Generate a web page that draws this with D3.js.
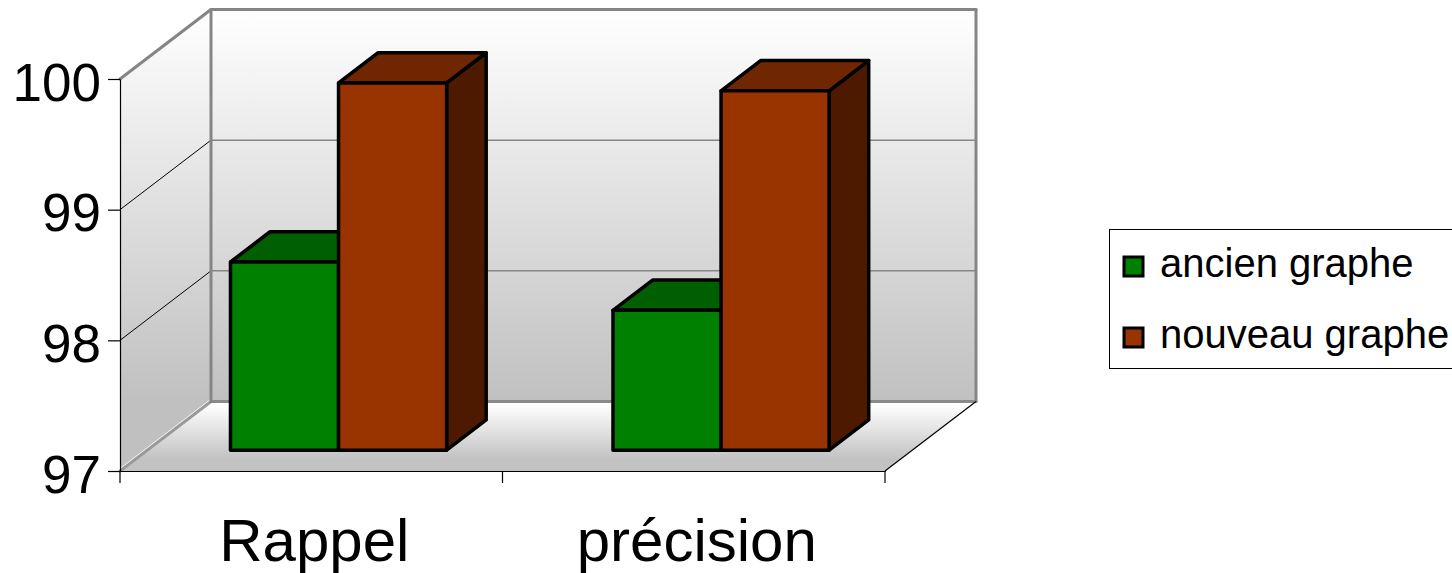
<!DOCTYPE html>
<html>
<head>
<meta charset="utf-8">
<script src="https://cdn.jsdelivr.net/npm/d3@7/dist/d3.min.js"></script>
<style>
  html, body { margin: 0; padding: 0; background: #ffffff; }
  svg { display: block; font-family: "Liberation Sans", Arial, sans-serif; }
</style>
</head>
<body>
<svg id="chart" width="1452" height="573"></svg>
<script>
// Chart data
const categories = ["Rappel", "précision"];
const seriesNames = ["ancien graphe", "nouveau graphe"];
const ancienGraphe = [98.44, 98.07];
const nouveauGraphe = [99.81, 99.75];
const yTicks = [97, 98, 99, 100];

const seriesValues = [ancienGraphe, nouveauGraphe];
const seriesColors = [
  { front: "#008000", top: "#005f00", side: "#004000" },
  { front: "#993300", top: "#702600", side: "#4d1a00" }
];

const svg = d3.select("#chart");

// Front plane scales
const y = d3.scaleLinear().domain([97, 100]).range([471, 79]);
const x = d3.scaleBand().domain(categories).range([120, 885]);

// Oblique depth projection: z = 0 front, z = 1 back wall
const DX = 91, DY = -69.5;
const P = (xf, yv, z) => [xf + z * DX, yv + z * DY];
const poly = pts => "M" + pts.map(p => p.join(",")).join("L") + "Z";

const x0 = x.range()[0], x1 = x.range()[1];
const yTop = y(y.domain()[1]), yBot = y(y.domain()[0]);

// Gradients
const defs = svg.append("defs");
const wallGrad = defs.append("linearGradient")
  .attr("id", "wallGrad").attr("gradientUnits", "userSpaceOnUse")
  .attr("x1", 0).attr("x2", 0).attr("y1", P(0, yTop, 1)[1]).attr("y2", P(0, yBot, 1)[1]);
wallGrad.append("stop").attr("offset", 0).attr("stop-color", "#ffffff");
wallGrad.append("stop").attr("offset", 1).attr("stop-color", "#c0c0c0");

const floorGrad = defs.append("linearGradient")
  .attr("id", "floorGrad").attr("gradientUnits", "userSpaceOnUse")
  .attr("x1", 0).attr("x2", 0).attr("y1", P(0, yBot, 1)[1] + 3).attr("y2", yBot - 12);
floorGrad.append("stop").attr("offset", 0).attr("stop-color", "#ffffff");
floorGrad.append("stop").attr("offset", 1).attr("stop-color", "#c2c2c2");

const walls = svg.append("g");

// Back wall
walls.append("path")
  .attr("d", poly([P(x0, yTop, 1), P(x1, yTop, 1), P(x1, yBot, 1), P(x0, yBot, 1)]))
  .attr("fill", "url(#wallGrad)").attr("stroke", "none");

// Left wall
walls.append("path")
  .attr("d", poly([P(x0, yTop, 0), P(x0, yTop, 1), P(x0, yBot, 1), P(x0, yBot, 0)]))
  .attr("fill", "url(#wallGrad)").attr("stroke", "none");

// Floor
walls.append("path")
  .attr("d", poly([P(x0, yBot, 0), P(x1, yBot, 0), P(x1, yBot, 1), P(x0, yBot, 1)]))
  .attr("fill", "url(#floorGrad)").attr("stroke", "none");

// Gridlines on back wall and left wall
yTicks.slice(1, -1).forEach(v => {
  walls.append("line")
    .attr("x1", P(x0, y(v), 1)[0]).attr("y1", P(x0, y(v), 1)[1])
    .attr("x2", P(x1, y(v), 1)[0]).attr("y2", P(x1, y(v), 1)[1])
    .attr("stroke", "#868686").attr("stroke-width", 1.5);
  walls.append("line")
    .attr("x1", P(x0, y(v), 0)[0]).attr("y1", P(x0, y(v), 0)[1])
    .attr("x2", P(x0, y(v), 1)[0]).attr("y2", P(x0, y(v), 1)[1])
    .attr("stroke", "#000000").attr("stroke-width", 1);
});

// Wall edges
const edge = (a, b, color, w) => walls.append("line")
  .attr("x1", a[0]).attr("y1", a[1]).attr("x2", b[0]).attr("y2", b[1])
  .attr("stroke", color).attr("stroke-width", w).attr("stroke-linecap", "round");

edge([P(x0, yBot, 0)[0], P(x0, yBot, 0)[1] - 2], [P(x0, yBot, 1)[0], P(x0, yBot, 1)[1] - 2], "#ffffff", 1.5);
edge(P(x0, yBot, 0), P(x0, yBot, 1), "#9a9a9a", 3);
edge([P(x0, yBot, 1)[0], P(x0, yBot, 1)[1] + 3], [P(x1, yBot, 1)[0], P(x1, yBot, 1)[1] + 3], "#ffffff", 1.5);
edge(P(x0, yBot, 1), P(x1, yBot, 1), "#8a8a8a", 3);
edge(P(x0, yTop, 0), P(x0, yTop, 1), "#858585", 3);
edge(P(x0, yTop, 1), P(x1, yTop, 1), "#858585", 3);
edge(P(x0, yTop, 1), P(x0, yBot, 1), "#858585", 3);
edge(P(x1, yTop, 1), P(x1, yBot, 1), "#858585", 3);

// Floor front-right edge
walls.append("line")
  .attr("x1", P(x1, yBot, 0)[0]).attr("y1", P(x1, yBot, 0)[1])
  .attr("x2", P(x1, yBot, 1)[0]).attr("y2", P(x1, yBot, 1)[1])
  .attr("stroke", "#000000").attr("stroke-width", 1.2);

// Bars
const zFront = 0.30, zBack = 0.735;
const groupFrac = 0.565;
const barW = x.bandwidth() * groupFrac / seriesValues.length;

const bars = svg.append("g")
  .attr("stroke", "#000000").attr("stroke-width", 3.5).attr("stroke-linejoin", "round");

seriesValues.forEach((vals, j) => {
  const c = seriesColors[j];
  vals.forEach((v, i) => {
    const cx = x(categories[i]) + x.bandwidth() / 2;
    const xl = cx - barW * seriesValues.length / 2 + j * barW;
    const xr = xl + barW;
    const yt = y(v), yb = y(y.domain()[0]);
    // right side face
    bars.append("path")
      .attr("d", poly([P(xr, yt, zFront), P(xr, yt, zBack), P(xr, yb, zBack), P(xr, yb, zFront)]))
      .attr("fill", c.side);
    // top face
    bars.append("path")
      .attr("d", poly([P(xl, yt, zFront), P(xl, yt, zBack), P(xr, yt, zBack), P(xr, yt, zFront)]))
      .attr("fill", c.top);
    // front face
    bars.append("path")
      .attr("d", poly([P(xl, yt, zFront), P(xr, yt, zFront), P(xr, yb, zFront), P(xl, yb, zFront)]))
      .attr("fill", c.front);
  });
});

// Value axis
const yAxis = svg.append("g")
  .attr("transform", `translate(${x0},0)`)
  .call(d3.axisLeft(y).tickValues(yTicks).tickFormat(d3.format("d"))
    .tickSize(12).tickSizeOuter(0).tickPadding(7));
yAxis.select(".domain").attr("stroke", "#000000").attr("stroke-width", 1.2);
yAxis.selectAll(".tick line").attr("stroke", "#000000").attr("stroke-width", 1.2);
yAxis.selectAll(".tick text")
  .attr("font-family", "'Liberation Sans', Arial, sans-serif")
  .attr("font-size", 53).attr("fill", "#000000")
  .attr("dy", null).attr("y", 21);

// Category axis
const xAxis = svg.append("g")
  .attr("transform", `translate(0,${yBot})`)
  .call(d3.axisBottom(x).tickSize(0).tickSizeOuter(0));
xAxis.select(".domain").attr("stroke", "#000000").attr("stroke-width", 1.2);
xAxis.selectAll(".tick text")
  .attr("font-family", "'Liberation Sans', Arial, sans-serif")
  .attr("font-size", 60).attr("fill", "#000000")
  .attr("dy", null).attr("y", 90).attr("x", 3);

// Category boundary ticks
const bounds = [x0, ...categories.map(c => x(c) + x.bandwidth())];
xAxis.selectAll(".bound").data(bounds).enter().append("line")
  .attr("class", "bound")
  .attr("x1", d => d).attr("x2", d => d).attr("y1", 0).attr("y2", 12)
  .attr("stroke", "#000000").attr("stroke-width", 1.2);

// Legend
const legend = svg.append("g");
legend.append("rect")
  .attr("x", 1109.5).attr("y", 229.5).attr("width", 360).attr("height", 139)
  .attr("fill", "#ffffff").attr("stroke", "#000000").attr("stroke-width", 1);
const items = legend.selectAll(".item").data(seriesNames).enter().append("g")
  .attr("class", "item")
  .attr("transform", (d, i) => `translate(0,${i * 71})`);
items.append("rect")
  .attr("x", 1124).attr("y", 257).attr("width", 19).attr("height", 19)
  .attr("fill", (d, i) => seriesColors[i].front)
  .attr("stroke", "#000000").attr("stroke-width", 3);
items.append("text")
  .attr("x", 1160).attr("y", 277)
  .attr("font-size", 40).attr("fill", "#000000")
  .text(d => d);
</script>
</body>
</html>
